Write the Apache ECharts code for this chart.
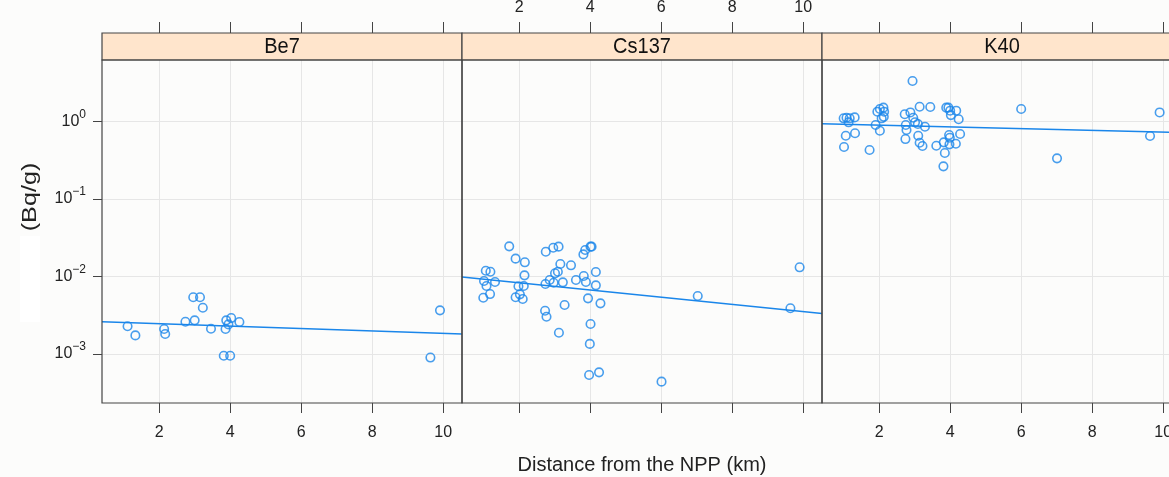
<!DOCTYPE html>
<html>
<head>
<meta charset="utf-8">
<script src="https://cdn.jsdelivr.net/npm/echarts@6/dist/echarts.min.js"></script>
<style>
  html, body { margin: 0; padding: 0; background: #fcfcfb; }
  #chart { width: 1169px; height: 477px; }
</style>
</head>
<body>
<div id="chart"></div>
<script>
// panels (lattice strips)
const panels = ['Be7', 'Cs137', 'K40'];

// distance from the NPP (km) and activity (Bq/g)
const be7Dist = [1.11, 1.33, 2.14, 2.17, 2.74, 3.00, 2.96, 3.15, 3.23, 3.46, 3.87, 3.89, 3.95, 4.03, 4.26, 3.82, 4.00, 9.91, 9.64];
const be7Act = [0.00228, 0.00174, 0.0021, 0.00181, 0.00261, 0.00272, 0.0054, 0.0054, 0.00396, 0.00212, 0.0021, 0.00272, 0.00241, 0.00291, 0.00259, 0.00095, 0.00095, 0.00366, 0.0009];

const cs137Dist = [1.72, 1.90, 2.16, 2.15, 1.06, 1.19, 1.01, 1.08, 1.32, 1.18, 0.99, 1.98, 2.13, 1.90, 2.02, 2.10,
  2.75, 2.96, 3.11, 3.16, 3.46, 3.01, 3.09, 2.86, 2.74, 2.97, 3.23, 3.60, 3.82, 3.88, 4.16, 4.16, 3.81, 3.86, 4.01, 4.04,
  3.94, 4.29, 3.28, 2.73, 2.77, 3.12, 4.01, 3.99, 3.97, 4.25, 7.03, 9.64, 9.90, 6.01];
const cs137Act = [0.0245, 0.017, 0.01525, 0.01036, 0.01188, 0.01153, 0.00875, 0.00754, 0.00849, 0.00594, 0.00532, 0.00748, 0.00754, 0.0054, 0.00589, 0.00513,
  0.0209, 0.0235, 0.0243, 0.0145, 0.01395, 0.011, 0.01153, 0.00901, 0.008, 0.00832, 0.00841, 0.00901, 0.01015, 0.00849, 0.01143, 0.00769, 0.0193, 0.022, 0.0243, 0.0243,
  0.00523, 0.00451, 0.00429, 0.00362, 0.00303, 0.00188, 0.00244, 0.00135, 0.000536, 0.00058, 0.0056, 0.00389, 0.01315, 0.00044];

const k40Dist = [2.94, 1.00, 1.08, 1.17, 1.31, 1.14, 1.06, 1.32, 1.01, 1.73, 1.95, 2.02, 2.12, 2.14, 2.13, 2.07, 1.90, 2.02,
  2.72, 2.88, 2.96, 3.14, 3.44, 3.01, 3.09, 3.29, 2.75, 2.77, 2.74, 3.10, 3.14, 3.22, 3.61,
  3.89, 3.95, 4.00, 4.17, 4.02, 4.24, 4.28, 3.97, 3.99, 3.82, 3.98, 4.16, 3.85, 3.81, 6.00, 7.01, 9.63, 9.90];
const k40Act = [3.33, 1.10, 1.12, 1.10, 1.13, 0.977, 0.656, 0.705, 0.469, 0.429, 1.34, 1.45, 1.51, 1.34, 1.15, 1.10, 0.901, 0.761,
  1.24, 1.31, 1.12, 1.55, 1.54, 0.977, 0.929, 0.857, 0.901, 0.777, 0.594, 0.656, 0.532, 0.483, 0.487,
  1.51, 1.51, 1.38, 1.38, 1.21, 1.07, 0.690, 0.670, 0.618, 0.539, 0.508, 0.517, 0.392, 0.264, 1.45, 0.335, 0.650, 1.31];

// fitted lines, read at the panel edges
const fitDist = [0.39, 10.53];
const be7Fit = [0.00261, 0.00181];
const cs137Fit = [0.00985, 0.00334];
const k40Fit = [0.937, 0.719];

// tick values
const xTicks = [2, 4, 6, 8, 10];
const yTicks = [0.001, 0.01, 0.1, 1];

const dists = [be7Dist, cs137Dist, k40Dist];
const acts = [be7Act, cs137Act, k40Act];
const fits = [be7Fit, cs137Fit, k40Fit];

const FONT = 'Liberation Sans, Arial, sans-serif';
const BLUE = '#1a86ea';
const INK = '#222';
const BORDER = '#444';
const GRIDLINE = '#e6e6e6';

const PANEL_LEFT = 102, PANEL_W = 360, PANEL_TOP = 60, PANEL_H = 343, STRIP_H = 27;
const X_MIN = 0.39, X_MAX = 10.53;
const Y_MIN = Math.pow(10, -3.632), Y_MAX = Math.pow(10, 0.794);

const zip = (a, b) => a.map((v, i) => [v, b[i]]);

const grid = [], xAxis = [], yAxis = [], series = [], graphic = [];

panels.forEach((name, i) => {
  const left = PANEL_LEFT + PANEL_W * i;
  grid.push({ left: left, top: PANEL_TOP, width: PANEL_W, height: PANEL_H, outerBoundsMode: 'none', containLabel: false });

  // bottom axis
  xAxis.push({
    type: 'value', gridIndex: i, position: 'bottom', min: X_MIN, max: X_MAX,
    axisLine: { show: false },
    axisTick: { show: true, length: 10, customValues: xTicks, lineStyle: { color: BORDER, width: 1 } },
    axisLabel: { show: i !== 1, customValues: xTicks, margin: 22, fontSize: 16, color: INK, fontFamily: FONT },
    splitLine: { show: true, lineStyle: { color: GRIDLINE, width: 1 } },
    name: i === 1 ? 'Distance from the NPP (km)' : '',
    nameLocation: 'middle', nameGap: 52,
    nameTextStyle: { fontSize: 20, color: INK, fontFamily: FONT }
  });
  // top axis, sits above the strip
  xAxis.push({
    type: 'value', gridIndex: i, position: 'top', offset: STRIP_H, min: X_MIN, max: X_MAX,
    axisLine: { show: false },
    axisTick: { show: true, length: 11, customValues: xTicks, lineStyle: { color: BORDER, width: 1 } },
    axisLabel: { show: i === 1, customValues: xTicks, margin: 17, fontSize: 16, color: INK, fontFamily: FONT },
    splitLine: { show: false }
  });

  yAxis.push({
    type: 'log', logBase: 10, gridIndex: i, min: Y_MIN, max: Y_MAX,
    axisLine: { show: false },
    axisTick: { show: i === 0, length: 9, customValues: yTicks, lineStyle: { color: BORDER, width: 1 } },
    axisLabel: {
      show: i === 0, customValues: yTicks, margin: 16, fontSize: 16, color: INK, fontFamily: FONT,
      formatter: v => {
        const e = Math.round(Math.log10(v));
        return '10{s|' + (e < 0 ? '\u2212' + (-e) : e) + '}';
      },
      rich: { s: { fontSize: 12, color: INK, fontFamily: FONT, padding: [0, 0, 14, 0] } }
    },
    splitLine: { show: true, lineStyle: { color: GRIDLINE, width: 1 } }
  });

  series.push({
    type: 'scatter', xAxisIndex: 2 * i, yAxisIndex: i,
    data: zip(dists[i], acts[i]),
    symbol: 'circle', symbolSize: 8.5,
    itemStyle: { color: 'rgba(0,0,0,0)', borderColor: BLUE, borderWidth: 1.6 },
    z: 3
  });
  series.push({
    type: 'line', xAxisIndex: 2 * i, yAxisIndex: i,
    data: zip(fitDist, fits[i]),
    symbol: 'none', lineStyle: { color: BLUE, width: 1.4 },
    z: 2, silent: true
  });

  // strip + panel border
  graphic.push({
    type: 'rect', z: 50,
    shape: { x: left, y: PANEL_TOP - STRIP_H, width: PANEL_W, height: STRIP_H },
    style: { fill: '#ffe5cc', stroke: BORDER, lineWidth: 1.2 }
  });
  graphic.push({
    type: 'text', z: 51, x: left + PANEL_W / 2, y: PANEL_TOP - STRIP_H / 2 + 0.5, scaleY: 1.1,
    style: { text: name, fontSize: 20, fontFamily: FONT, fill: '#111', align: 'center', verticalAlign: 'middle' }
  });
  graphic.push({
    type: 'rect', z: 50,
    shape: { x: left, y: PANEL_TOP, width: PANEL_W, height: PANEL_H },
    style: { fill: 'none', stroke: BORDER, lineWidth: 1.2 }
  });
});

// y title (lower part blanked in the source)
graphic.push({
  type: 'rect', z: 1,
  shape: { x: 20, y: 236, width: 20, height: 86 },
  style: { fill: '#ffffff' }
});
graphic.push({
  type: 'text', z: 51, x: 30, y: 197, rotation: Math.PI / 2, scaleX: 1.2,
  style: { text: '(Bq/g)', fontSize: 21, fontFamily: FONT, fill: INK, align: 'center', verticalAlign: 'middle' }
});

const chart = echarts.init(document.getElementById('chart'), null, { renderer: 'canvas' });
chart.setOption({
  backgroundColor: '#fcfcfb',
  animation: false,
  grid: grid,
  xAxis: xAxis,
  yAxis: yAxis,
  series: series,
  graphic: graphic
});
</script>
</body>
</html>
